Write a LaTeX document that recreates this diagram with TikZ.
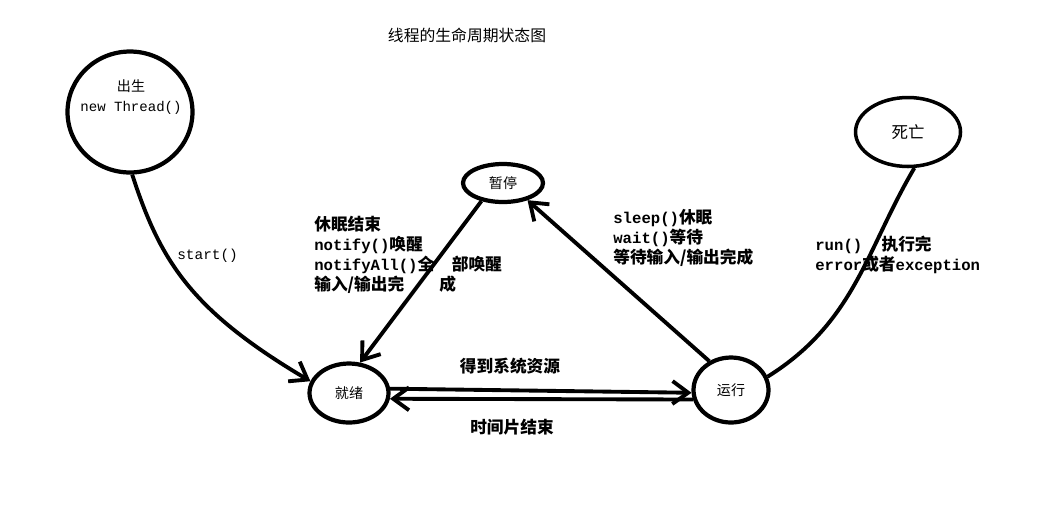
\documentclass[tikz,border=0pt]{standalone}
\usepackage{fontspec}
\setmainfont{Noto Sans CJK SC}
\setmonofont{Liberation Mono}
\usetikzlibrary{shapes.geometric, arrows.meta, positioning}
\newcommand{\code}[1]{{\ttfamily\fontsize{8.9}{11.3}\selectfont #1}}

\begin{document}
\begin{tikzpicture}[
        x=0.02cm, y=-0.02cm,
        state/.style={
            ellipse, draw, line width=2.4pt, inner sep=0pt,
            font=\fontsize{8}{10}\selectfont,
        },
        edge/.style={line width=2.2pt, -{Straight Barb[length=9pt,width=13pt]}},
        lbl/.style={
            align=left, anchor=west, inner sep=0pt,
            font=\bfseries\fontsize{9.5}{11.3}\selectfont,
        },
    ]
        \useasboundingbox (0,0) rectangle (1043,508);

        \node (title) at (467,35) {\fontsize{9}{11}\selectfont 线程的生命周期状态图};

        \node[state, minimum width=2.5cm, minimum height=2.42cm] (birth) at (130,112) {};
        \node[align=center, inner sep=0pt, font=\fontsize{8}{11}\selectfont] (birthtxt) at (131,97) {出生\\\texttt{new Thread()}};
        \node[state, minimum width=1.6cm, minimum height=0.76cm] (pause) at (503,183) {暂停};
        \node[state, line width=2pt, minimum width=2.1cm, minimum height=1.38cm, font=\fontsize{9.4}{11}\selectfont] (death) at (908,132) {死亡};
        \node[state, minimum width=1.58cm, minimum height=1.18cm] (ready) at (349,393) {就绪};
        \node[state, minimum width=1.5cm, minimum height=1.3cm] (run) at (731,390) {运行};

        \draw[edge] (birth.-88) .. controls (160,260) and (190,310) .. (ready.163);
        \draw[edge] (pause.220) -- (ready.70);
        \draw[edge] (run.127) -- (pause.-35);
        \draw[line width=2.2pt] (run.20) .. controls (855,322) and (866,250) .. (death.-80);
        \draw[edge] (ready.6) -- (run.184);
        \draw[edge] (run.194) -- (ready.-8);

        \node[lbl, font=\fontsize{8.2}{10}\selectfont] (startlbl) at (177,256) {\texttt{start()}};
        \node[lbl] (wakelbl) at (314,255) {休眠结束\\\code{notify()}唤醒\\\code{notifyAll()}全\hspace{10pt}部唤醒\\输入/输出完\hspace{20pt}成};
        \node[lbl] (sleeplbl) at (613,238) {\code{sleep()}休眠\\\code{wait()}等待\\等待输入/输出完成};
        \node[lbl] (endlbl) at (815,255) {\code{run()}\hspace{11pt}执行完\\\code{error}或者\code{exception}};
        \node[lbl, anchor=center] (getlbl) at (510,366) {得到系统资源};
        \node[lbl, anchor=center] (slicelbl) at (512,427) {时间片结束};
\end{tikzpicture}
\end{document}
